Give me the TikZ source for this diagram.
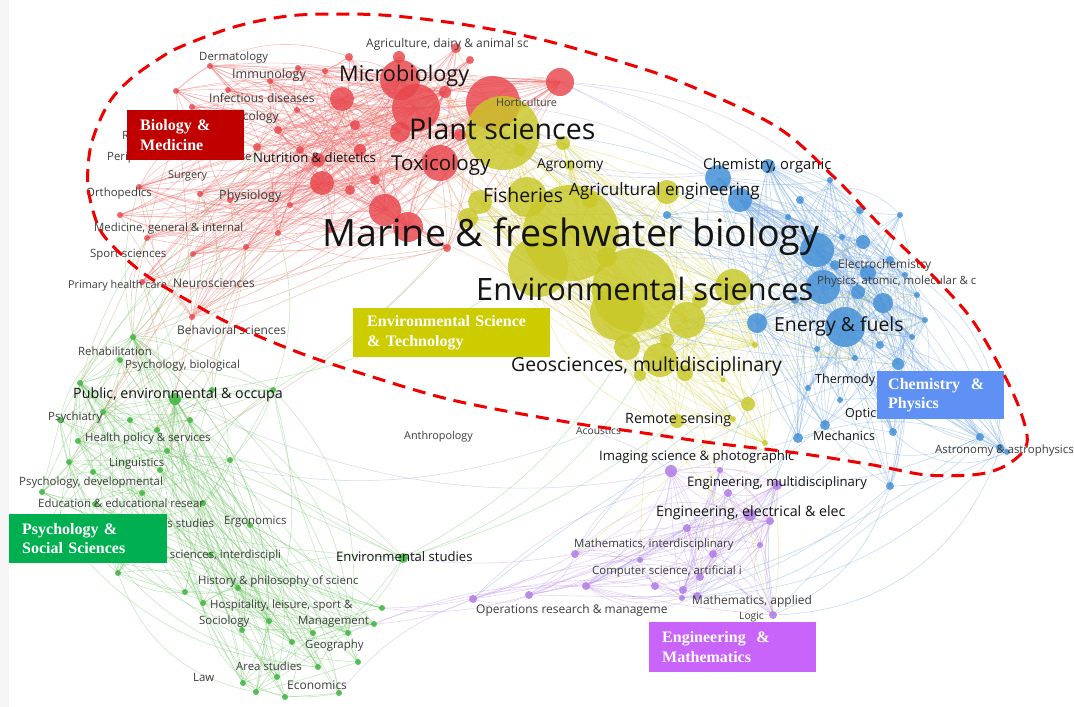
\documentclass[tikz,border=0pt]{standalone}
\usepackage{fontspec}
\newfontfamily\os{Open Sans}
\newfontfamily\tms{Liberation Serif}
\definecolor{redN}{RGB}{232,70,76}
\definecolor{redEc}{RGB}{240,110,110}
\definecolor{yelN}{RGB}{200,200,40}
\definecolor{yelEc}{RGB}{215,215,80}
\definecolor{bluN}{RGB}{70,145,215}
\definecolor{bluEc}{RGB}{120,170,225}
\definecolor{purN}{RGB}{180,130,230}
\definecolor{purEc}{RGB}{195,155,235}
\definecolor{grnN}{RGB}{70,185,70}
\definecolor{grnEc}{RGB}{120,200,110}
\definecolor{oraEc}{RGB}{235,160,90}
\definecolor{lavEc}{RGB}{175,170,215}
\definecolor{brnEc}{RGB}{200,150,110}
\definecolor{lt}{RGB}{60,60,60}
\definecolor{dk}{RGB}{20,20,20}
\definecolor{bioC}{RGB}{192,0,0}
\definecolor{envC}{RGB}{204,204,0}
\definecolor{psyC}{RGB}{0,176,80}
\definecolor{chmC}{RGB}{95,145,245}
\definecolor{engC}{RGB}{200,100,250}
\definecolor{dashC}{RGB}{240,0,0}
\begin{document}
\begin{tikzpicture}[x=1pt,y=-1pt,
  edge/.style={line width=0.6pt, draw opacity=0.42},
  redE/.style={edge, draw=redEc},
  yelE/.style={edge, draw=yelEc},
  bluE/.style={edge, draw=bluEc},
  purE/.style={edge, draw=purEc},
  grnE/.style={edge, draw=grnEc},
  oraE/.style={edge, draw=oraEc},
  lavE/.style={edge, draw=lavEc},
  brnE/.style={edge, draw=brnEc},
  lab/.style={anchor=west, inner sep=0pt},
  catbox/.style={anchor=north west, inner ysep=0pt, text=white, align=left,
    font=\tms\bfseries\fontsize{16}{19.5}\selectfont}
]
\useasboundingbox (0,0) rectangle (1074,707);
\fill[white] (0,0) rectangle (1074,707);
\fill[black!4] (0,0) rectangle (9,707);

\def\redlist{416/108/24, 400/80/20, 493/103/27, 560/82/14, 440/163/18, 342/99/12, 400/132/10, 445/92/6, 385/210/16, 408/227/15, 322/183/12, 318/160/7, 399/57/6, 456/48/5, 349/57/4, 325/71/3, 298/68/3, 270/81/3, 210/66/3, 176/91/3, 192/107/3, 228/90/3, 297/110/3, 278/130/4, 257/147/4, 200/194/3, 139/187/3, 147/238/3, 278/233/3, 193/254/3, 246/247/3, 142/282/3, 192/317/3, 447/248/4, 360/150/6, 355/125/5, 300/150/4, 470/60/4, 350/190/5, 230/200/3, 120/215/3, 330/230/3, 460/135/6, 375/180/5, 290/205/3}
\def\yellist{503/133/37, 571/233/48, 634/290/42, 538/267/30, 617/313/27, 687/320/18, 733/287/18, 527/197/20, 480/202/12, 468/218/10, 563/143/7, 667/192/12, 660/360/17, 627/347/13, 685/373/8, 748/404/7, 677/421/7, 607/257/10, 667/340/7, 570/165/5, 733/419/3, 765/443/3, 755/345/3, 723/380/2.5, 700/300/8, 640/375/6, 590/200/8, 520/150/6}
\def\blulist{768/166/7, 718/178/13, 740/200/12, 817/250/17, 823/287/17, 845/327/20, 757/323/10, 883/303/10, 863/242/7, 860/210/4, 858/292/7, 868/273/8, 788/217/3, 842/237/3, 917/295/3, 925/320/3, 912/337/3, 817/349/3, 855/358/3, 898/364/6, 808/388/3, 825/425/5, 798/438/5, 893/432/4, 980/437/4, 1000/448/4, 1007/452/3, 890/486/4, 667/215/4, 800/200/4, 830/180/3, 890/260/4, 900/215/3, 795/300/4, 880/345/4, 840/400/3, 905/275/3, 835/265/5}
\def\purlist{671/471/6, 777/485/5, 728/493/4, 750/515/6, 770/521/4, 687/528/4, 575/554/4, 713/554/4, 700/577/4, 655/586/4, 586/586/4, 683/590/4, 697/596/4, 682/598/3, 529/595/4, 473/599/4, 773/615/4, 760/545/3, 640/560/3, 720/470/3}
\def\grnlist{175/399/6, 133/337/3, 80/383/3, 103/412/3, 157/430/3, 78/441/3, 167/451/3, 212/390/3, 273/390/3, 69/462/3, 93/472/3, 42/492/3, 142/493/3, 95/504/3, 203/503/3, 118/573/3, 185/592/3, 203/603/3, 238/588/3, 242/630/3, 269/621/3, 292/642/3, 313/633/3, 348/633/3, 374/624/3, 382/608/3, 358/662/3, 318/667/3, 277/677/3, 243/683/3, 256/692/3, 285/697/3, 339/693/3, 403/558/5, 250/525/3, 60/530/3, 40/560/3, 150/540/3, 210/555/3, 120/360/3, 230/460/3, 60/420/3, 160/470/3, 130/420/3, 190/420/3}

\foreach \x/\y/\r [count=\i] in \redlist {\coordinate (r\i) at (\x,\y);}
\foreach \x/\y/\r [count=\i] in \yellist {\coordinate (y\i) at (\x,\y);}
\foreach \x/\y/\r [count=\i] in \blulist {\coordinate (b\i) at (\x,\y);}
\foreach \x/\y/\r [count=\i] in \purlist {\coordinate (p\i) at (\x,\y);}
\foreach \x/\y/\r [count=\i] in \grnlist {\coordinate (g\i) at (\x,\y);}
\coordinate (acou) at (593,432);

\pgfmathsetseed{11}
% intra-cluster links
\foreach \c/\n/\s/\h/\pr in {r/45/redE/12/0.42, y/28/yelE/10/0.40, b/38/bluE/8/0.45, p/20/purE/6/0.45, g/45/grnE/3/0.30}{
  \foreach \i in {1,...,\n}{
    \foreach \k in {1,2,3,4}{
      \pgfmathrandominteger{\j}{1}{\n}
      \pgfmathrandominteger{\bd}{-40}{40}
      \ifnum\i=\j\else\draw[\s] (\c\i) to[bend left=\bd] (\c\j);\fi
    }
  }
  \foreach \i in {1,...,\h}{
    \foreach \j in {1,...,\n}{
      \pgfmathsetmacro\q{rnd}
      \pgfmathrandominteger{\bd}{-25}{25}
      \ifnum\i<\j\ifdim\q pt<\pr pt\draw[\s] (\c\i) to[bend left=\bd] (\c\j);\fi\fi
    }
  }
}
% cross-cluster links
\foreach \ca/\la/\ha/\cb/\lb/\hb/\s/\m in {r/1/14/y/1/14/oraE/30, y/1/14/b/1/20/yelE/16, b/1/20/y/1/14/bluE/16, r/1/6/b/1/6/lavE/8, b/14/28/p/1/20/bluE/12, y/13/24/p/1/20/yelE/8, r/26/34/g/1/10/brnE/20, g/1/9/r/24/34/grnE/10}{
  \foreach \k in {1,...,\m}{
    \pgfmathrandominteger{\a}{\la}{\ha}
    \pgfmathrandominteger{\b}{\lb}{\hb}
    \pgfmathrandominteger{\bd}{-25}{25}
    \draw[\s] (\ca\a) to[bend left=\bd] (\cb\b);
  }
}
\foreach \a/\b/\bd in {g25/p16/-10, g26/p15/-12, g34/p7/-8, g24/p11/10, g33/p16/15, g26/p7/-15, g25/p11/12}{\draw[purE] (\a) to[bend left=\bd] (\b);}
\foreach \a/\b/\bd in {g34/y14/-15, g34/y17/-10, g9/y10/-10, g8/y4/-12, g34/y26/-20}{\draw[grnE] (\a) to[bend left=\bd] (\b);}
\draw[lavE] (g7) to[bend right=18] (acou);
\draw[lavE] (g1) to[bend right=22] (b23);
\draw[lavE] (acou) to[bend left=10] (p1);
\draw[bluE] (b26) to[bend left=35] (p17);
\draw[bluE] (b28) to[bend left=25] (p17);
\draw[bluE] (b16) to[bend left=20] (p4);
\draw[lavE] (r4) to[bend left=15] (b1);
\draw[lavE] (r3) to[bend left=12] (b2);
\draw[lavE] (r4) to[bend left=20] (b10);

% nodes
\foreach \x/\y/\r [count=\i] in \grnlist {\fill[grnN, fill opacity=0.9] (g\i) circle[radius=\r pt];}
\foreach \x/\y/\r [count=\i] in \purlist {\fill[purN, fill opacity=0.9] (p\i) circle[radius=\r pt];}
\foreach \x/\y/\r [count=\i] in \blulist {\fill[bluN, fill opacity=0.85] (b\i) circle[radius=\r pt];}
\foreach \x/\y/\r [count=\i] in \redlist {\fill[redN, fill opacity=0.82] (r\i) circle[radius=\r pt];}
\foreach \x/\y/\r [count=\i] in \yellist {\fill[yelN, fill opacity=0.82] (y\i) circle[radius=\r pt];}

% labels
\foreach \x/\y/\s/\c/\t [count=\i] in {
199/58/10/lt/Dermatology, 232/75/11/lt/Immunology, 339/76/19/dk/Microbiology,
366/44/10.5/lt/{Agriculture, dairy \& animal sc}, 209/98/10.5/lt/{Infectious diseases},
226/117/10.5/lt/Oncology, 122/135/10/lt/R, 107/158/10/lt/{Peripheral vascular disease},
168/176/9.5/lt/Surgery, 86/194/10/lt/Orthopedics, 219/196/11/lt/Physiology,
253/158/11.5/dk/{Nutrition \& dietetics}, 391/165/18/dk/Toxicology, 409/129/25/dk/{Plant sciences},
496/102/9.5/lt/Horticulture, 94/229/10/lt/{Medicine, general \& internal}, 90/255/10/lt/{Sport sciences},
68/286/9.5/lt/{Primary health care}, 173/283/10.5/lt/Neurosciences, 177/330/10.5/lt/{Behavioral sciences},
78/351/10/lt/Rehabilitation, 125/366/10/lt/{Psychology, biological}, 73/395/12.5/dk/{Public, environmental \& occupa},
48/418/10/lt/Psychiatry, 85/439/10/lt/{Health policy \& services}, 109/464/10/lt/Linguistics,
19/483/10/lt/{Psychology, developmental}, 38/503/10/lt/{Education \& educational resear},
124/523/10/lt/{Women's studies}, 224/522/10/lt/Ergonomics, 136/556/10/lt/{Social sciences, interdiscipli},
198/582/10/lt/{History \& philosophy of scienc}, 210/606/10/lt/{Hospitality, leisure, sport \&},
199/622/10/lt/Sociology, 298/622/10/lt/Management, 305/646/10/lt/Geography, 236/666/10/lt/{Area studies},
193/677/10/lt/Law, 287/685/10.5/lt/Economics, 336/557/11.5/dk/{Environmental studies},
404/437/9.5/lt/Anthropology, 576/431/9/lt/Acoustics, 625/420/12.5/dk/{Remote sensing},
599/457/11.5/dk/{Imaging science \& photographic}, 687/483/11.5/dk/{Engineering, multidisciplinary},
656/513/12.5/dk/{Engineering, electrical \& elec}, 574/545/10/lt/{Mathematics, interdisciplinary},
592/572/10/lt/{Computer science, artificial i}, 476/610/10.5/lt/{Operations research \& manageme},
692/601/10.5/lt/{Mathematics, applied}, 739/617/9/lt/Logic, 935/451/10/lt/{Astronomy \& astrophysics},
813/436/11/dk/Mechanics, 845/414/11/dk/Optic, 815/380/11/dk/Thermody,
774/326/17/dk/{Energy \& fuels}, 817/282/10/lt/{Physics, atomic, molecular \& c},
838/265/10.5/lt/Electrochemistry, 703/166/13/dk/{Chemistry, organic},
569/191/15/dk/{Agricultural engineering}, 537/165/12/dk/Agronomy, 483/195/17/dk/Fisheries,
322/237/33/dk/{Marine \& freshwater biology}, 476/289/27/dk/{Environmental sciences},
511/366/17/dk/{Geosciences, multidisciplinary}}{
  \pgfmathsetmacro\fs{\s*1.14}
  \node[lab, text=\c, font=\os\fontsize{\fs}{\fs}\selectfont] (t\i) at (\x,\y) {\t};
}

% category boxes
\node[catbox, fill=bioC, inner xsep=13pt, text width=91pt, minimum height=50pt] (bio) at (127,110) {Biology \&\\Medicine};
\node[catbox, fill=envC, inner xsep=14pt, text width=169pt, minimum height=49pt] (env) at (353,308) {Environmental Science\\\& Technology};
\node[catbox, fill=psyC, inner xsep=13pt, text width=132pt, minimum height=49pt] (psy) at (9,514) {Psychology \&\\Social Sciences};
\node[catbox, fill=chmC, inner xsep=11pt, text width=105pt, minimum height=48pt] (chm) at (877,371) {Chemistry~~\&\\Physics};
\node[catbox, fill=engC, inner xsep=13pt, text width=141pt, minimum height=50pt] (eng) at (649,622) {Engineering~~\&\\Mathematics};

% dashed outline
\draw[dashC, line width=3pt, dash pattern=on 13pt off 8pt] plot[smooth cycle, tension=0.55] coordinates {
(110,243) (97,223) (88,187) (90,150) (100,120) (113,97) (133,77) (157,60) (180,47) (234,27) (288,16) (342,14) (395,16) (467,25) (539,39) (611,59) (683,83) (777,127) (837,180) (880,225) (930,273) (970,317) (1000,367) (1020,410) (1027,443) (1010,463) (980,474) (927,475) (873,465) (797,453) (713,443) (637,432) (567,422) (452,400) (360,373) (300,353) (233,325) (187,300) (143,273)};
\end{tikzpicture}
\end{document}
